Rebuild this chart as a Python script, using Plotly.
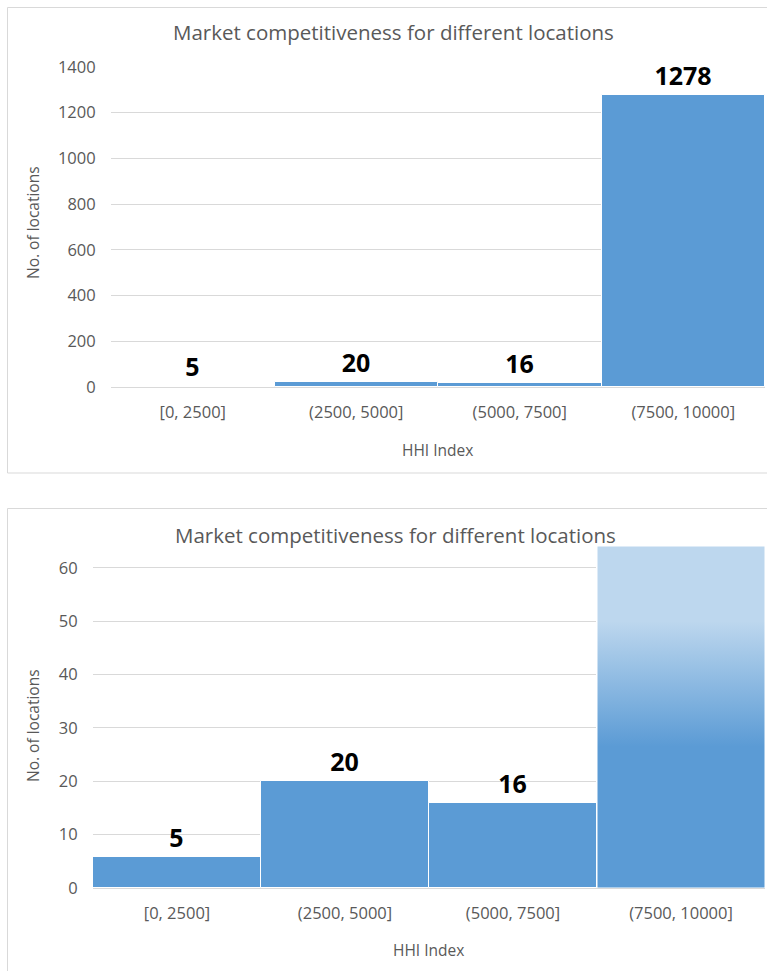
import plotly.graph_objects as go

# ---------------- data ----------------
categories = ["[0, 2500]", "(2500, 5000]", "(5000, 7500]", "(7500, 10000]"]
count_labels = [5, 20, 16, 1278]          # numbers printed above the bars
bar_heights = [5.8, 20, 16, 1278]         # bar heights as drawn in the picture
top_ticks = [0, 200, 400, 600, 800, 1000, 1200, 1400]
bottom_ticks = [0, 10, 20, 30, 40, 50, 60]
chart_title = "Market competitiveness for different locations"
x_title = "HHI Index"
y_title = "No. of locations"

# ---------------- styling ----------------
W, H = 767, 971
BAR = "#5B9BD5"
LIGHT = "#BDD7EE"
GRID = "#D9D9D9"
TXT = "#595959"
FONT = "Open Sans, Liberation Sans, sans-serif"

def fx(px):
    return px / W

def fy(py):
    return 1 - py / H

top_range = [0, 1400]
bot_range = [0, 64.1]

xs = list(range(len(categories)))

fig = go.Figure()

label_font = dict(family=FONT, size=25, color="black", weight="bold")

# top panel bars
fig.add_trace(go.Bar(
    x=xs, y=bar_heights, width=1, xaxis="x", yaxis="y",
    marker=dict(color=BAR, line=dict(color="white", width=1)),
    text=[str(v) for v in count_labels], textposition="outside",
    textfont=label_font, cliponaxis=False, showlegend=False, hoverinfo="skip",
))

# bottom panel bars (values beyond the axis get no label)
bot_text = [str(v) if h <= bot_range[1] else "" for v, h in zip(count_labels, bar_heights)]
fig.add_trace(go.Bar(
    x=xs, y=bar_heights, width=1, xaxis="x2", yaxis="y2",
    marker=dict(color=BAR, line=dict(color="white", width=1)),
    text=bot_text, textposition="outside",
    textfont=label_font, cliponaxis=True, showlegend=False, hoverinfo="skip",
))

# gradient overlay for bars that exceed the bottom axis
for i, h in enumerate(bar_heights):
    if h > bot_range[1]:
        top = bot_range[1]
        fig.add_trace(go.Scatter(
            x=[i - 0.5, i + 0.5, i + 0.5, i - 0.5, i - 0.5],
            y=[0, 0, top, top, 0],
            xaxis="x2", yaxis="y2", mode="lines", fill="toself",
            line=dict(color="white", width=1),
            fillgradient=dict(
                type="vertical", start=0, stop=top,
                colorscale=[[0, BAR], [26.5 / top, BAR], [50 / top, LIGHT], [1, LIGHT]],
            ),
            showlegend=False, hoverinfo="skip",
        ))

axis_common = dict(
    tickfont=dict(family=FONT, size=16.5, color=TXT),
    zeroline=False,
    automargin=False,
)

fig.update_layout(
    width=W, height=H,
    margin=dict(l=0, r=0, t=0, b=0, autoexpand=False),
    paper_bgcolor="white", plot_bgcolor="white",
    bargap=0,
    xaxis=dict(domain=[fx(111), fx(765)], range=[-0.5, 3.5], tickvals=xs, ticktext=categories,
               showgrid=False, showline=True, linecolor=GRID, linewidth=1,
               ticks="outside", ticklen=10, tickcolor="rgba(0,0,0,0)",
               anchor="y", **axis_common),
    yaxis=dict(domain=[fy(387), fy(67)], range=top_range, tickvals=top_ticks,
               showgrid=True, gridcolor=GRID, showline=False,
               ticks="outside", ticklen=11, tickcolor="rgba(0,0,0,0)",
               anchor="x", **axis_common),
    xaxis2=dict(domain=[fx(93), fx(765)], range=[-0.5, 3.5], tickvals=xs, ticktext=categories,
                showgrid=False, showline=True, linecolor=GRID, linewidth=1,
                ticks="outside", ticklen=10, tickcolor="rgba(0,0,0,0)",
                anchor="y2", **axis_common),
    yaxis2=dict(domain=[fy(888), fy(546)], range=bot_range, tickvals=bottom_ticks,
                showgrid=True, gridcolor=GRID, showline=False,
                ticks="outside", ticklen=11, tickcolor="rgba(0,0,0,0)",
                anchor="x2", **axis_common),
    shapes=[
        dict(type="rect", xref="paper", yref="paper", x0=fx(7.5), x1=fx(780), y0=fy(473), y1=fy(7.5),
             line=dict(color=GRID, width=1), fillcolor="rgba(0,0,0,0)", layer="below"),
        dict(type="rect", xref="paper", yref="paper", x0=fx(7.5), x1=fx(780), y0=fy(990), y1=fy(508.5),
             line=dict(color=GRID, width=1), fillcolor="rgba(0,0,0,0)", layer="below"),
    ],
)

ann_font_title = dict(family=FONT, size=20.5, color=TXT)
ann_font_axis = dict(family=FONT, size=15.5, color=TXT)
annotations = [
    dict(text=chart_title, x=fx(393), y=fy(32), font=ann_font_title),
    dict(text=chart_title, x=fx(395), y=fy(535), font=ann_font_title),
    dict(text=x_title, x=fx(437), y=fy(450), font=ann_font_axis),
    dict(text=x_title, x=fx(429), y=fy(950), font=ann_font_axis),
    dict(text=y_title, x=fx(33), y=fy(223), font=ann_font_axis, textangle=-90),
    dict(text=y_title, x=fx(33), y=fy(726), font=ann_font_axis, textangle=-90),
]
for a in annotations:
    a.update(xref="paper", yref="paper", showarrow=False, xanchor="center", yanchor="middle")
fig.update_layout(annotations=annotations)

fig.write_html("out.html")
